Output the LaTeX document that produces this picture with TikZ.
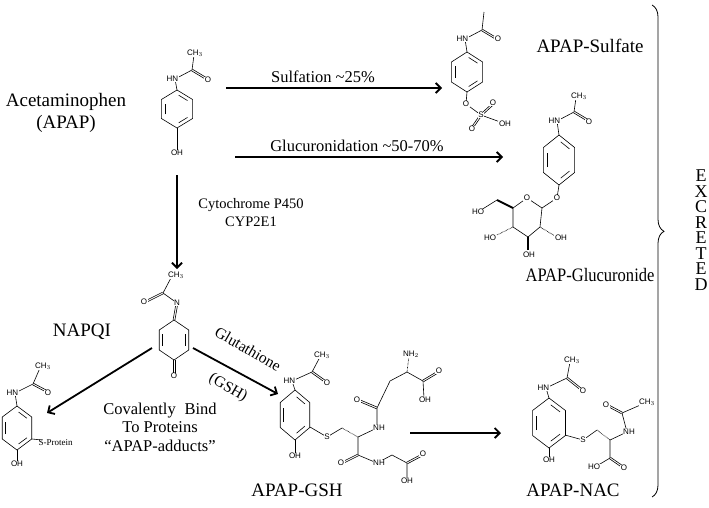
\documentclass[tikz,border=0pt]{standalone}
\usepackage{fontspec}
\setmainfont{Liberation Serif}
\setsansfont{Liberation Sans}
\usetikzlibrary{calc,arrows.meta,decorations.pathreplacing}
\newcommand\ringat[5]{%
\begin{scope}[shift={(#1,#2)},xscale=#3,yscale=#4]
\draw[bond] (30:1)--(90:1)--(150:1)--(210:1)--(270:1)--(330:1)--cycle;
\foreach \a/\b in {#5}{\draw[bond] ($(\a:0.78)!0.14!(\b:0.78)$)--($(\b:0.78)!0.14!(\a:0.78)$);}
\end{scope}}
\newcommand\dbond[2]{%
\draw[bond] ($(#1)!0.9pt!90:(#2)$)--($(#2)!0.9pt!-90:(#1)$);
\draw[bond] ($(#1)!0.9pt!-90:(#2)$)--($(#2)!0.9pt!90:(#1)$);}
\tikzset{
 bond/.style={line width=0.6pt},
 hash/.style={line width=0.7pt,dash pattern=on 0.6pt off 0.8pt},
 wedge/.style={line width=1.8pt},
 atom/.style={font=\sffamily\fontsize{8}{8}\selectfont,fill=white,inner sep=0.6pt},
 lbl/.style={font=\fontsize{16.5}{18}\selectfont,inner sep=0pt,align=center},
 big/.style={font=\fontsize{19}{22}\selectfont,inner sep=0pt,align=center},
 arr/.style={line width=1.8pt,-{Straight Barb[length=5pt,width=10pt]}}
}
\begin{document}
\begin{tikzpicture}[x=1pt,y=-1pt]
\useasboundingbox (0,0) rectangle (709,507);
% ---------- APAP
\ringat{177}{109}{18}{19}{30/90,150/210,270/330}
\draw[bond] (177,90)--(175,79)--(192,70)--(194,55);
\dbond{192,70}{207,79}
\draw[bond] (177,128)--(177,150);
\node[atom,anchor=east] at (179,79) {HN};
\node[atom] at (195,53) {CH$_3$};
\node[atom] at (208,80) {O};
\node[atom] at (177,153) {OH};
% ---------- Sulfate
\ringat{467}{72}{18}{20}{30/90,150/210,270/330}
\draw[bond] (467,52)--(465,39)--(482,30)--(484,12);
\dbond{482,30}{497,39}
\draw[bond] (467,92)--(466,104)--(481,115)--(503,123);
\dbond{481,115}{493,104}
\dbond{481,115}{472,128}
\node[atom,anchor=east] at (469,39) {HN};
\node[atom] at (498,39) {O};
\node[atom] at (466,104) {O};
\node[atom] at (481,115) {S};
\node[atom] at (493,103) {O};
\node[atom] at (505,124) {OH};
\node[atom] at (472,129) {O};
% ---------- Glucuronide
\ringat{559}{160}{18}{25}{30/90,150/210,270/330}
\draw[bond] (559,135)--(557,121)--(574,112)--(576,98);
\dbond{574,112}{589,121}
\node[atom,anchor=east] at (561,121) {HN};
\node[atom] at (579,96) {CH$_3$};
\node[atom] at (589,122) {O};
\draw[bond] (559,185)--(557,198)--(542,208)--(540,227)--(528,237)--(513,227)--(513,208)--(527,198)--(542,208);
\draw[wedge] (513,208)--(497,200);
\draw[bond] (497,200)--(481,210);
\draw[hash] (513,227)--(495,236);
\draw[wedge] (528,237)--(528,250);
\draw[hash] (540,227)--(555,236);
\node[atom] at (557,198) {O};
\node[atom] at (527,198) {O};
\node[atom] at (478,212) {HO};
\node[atom] at (490,238) {HO};
\node[atom] at (529,255) {OH};
\node[atom] at (561,238) {OH};
% ---------- NAPQI
\ringat{174}{340}{17}{20}{150/210,330/30}
\dbond{174,320}{177,303}
\draw[bond] (177,303)--(163,293)--(172,276);
\dbond{163,293}{145,302}
\dbond{174,360}{174,374}
\node[atom] at (177,303) {N};
\node[atom] at (176,275) {CH$_3$};
\node[atom] at (144,302) {O};
\node[atom] at (174,376) {O};
% ---------- adduct
\ringat{17}{428}{17}{22}{30/90,150/210,270/330}
\draw[bond] (17,406)--(15,393)--(33,384)--(40,368);
\dbond{33,384}{48,392}
\draw[bond] (32,439)--(42,440);
\draw[bond] (17,450)--(17,462);
\node[atom,anchor=east] at (19,393) {HN};
\node[atom] at (43,366) {CH$_3$};
\node[atom] at (48,393) {O};
\node[atom] at (17,464) {OH};
\node[font=\fontsize{9}{9}\selectfont,inner sep=0.5pt,anchor=west] at (38,443) {S-Protein};
% ---------- APAP-GSH
\ringat{295}{415}{17}{25}{30/90,150/210,270/330}
\draw[bond] (295,390)--(292,381)--(312,372)--(320,357);
\dbond{312,372}{326,382}
\draw[bond] (310,427)--(327,437)--(342,428);
\draw[hash] (342,428)--(358,437);
\draw[bond] (358,437)--(377,428)--(377,408)--(390,381)--(407,372);
\dbond{377,408}{358,400}
\draw[hash] (407,372)--(409,356);
\draw[bond] (407,372)--(423,381)--(424,398);
\dbond{423,381}{438,372}
\draw[bond] (358,437)--(358,455)--(377,463)--(392,455)--(407,463)--(407,479);
\dbond{358,455}{342,463}
\dbond{407,463}{422,455}
\draw[bond] (295,440)--(295,453);
\node[atom,anchor=east] at (296,381) {HN};
\node[atom] at (322,355) {CH$_3$};
\node[atom] at (327,383) {O};
\node[atom] at (327,437) {S};
\node[atom] at (379,428) {NH};
\node[atom] at (357,400) {O};
\node[atom] at (411,354) {NH$_2$};
\node[atom] at (439,371) {O};
\node[atom] at (425,400) {OH};
\node[atom] at (341,463) {O};
\node[atom] at (379,463) {NH};
\node[atom] at (423,454) {O};
\node[atom] at (407,481) {OH};
\node[atom] at (295,456) {OH};
% ---------- APAP-NAC
\ringat{549}{423}{19}{25}{30/90,150/210,270/330}
\draw[bond] (549,398)--(546,388)--(567,378)--(570,362);
\dbond{567,378}{582,390}
\draw[bond] (565,435)--(583,440)--(597,430);
\draw[hash] (597,430)--(610,440);
\draw[bond] (610,440)--(627,432)--(622,413)--(645,403);
\dbond{622,413}{607,405}
\draw[bond] (610,440)--(610,458)--(595,467);
\dbond{610,458}{623,467}
\draw[bond] (549,448)--(549,457);
\node[atom,anchor=east] at (550,388) {HN};
\node[atom] at (572,360) {CH$_3$};
\node[atom] at (583,391) {O};
\node[atom] at (583,440) {S};
\node[atom] at (629,432) {NH};
\node[atom] at (606,405) {O};
\node[atom] at (647,402) {CH$_3$};
\node[atom] at (594,467) {HO};
\node[atom] at (624,468) {O};
\node[atom] at (549,460) {OH};
% ---------- texts
\node[big] (apap) at (66,113) {Acetaminophen\\(APAP)};
\node[big] (sulf) at (590,46) {APAP-Sulfate};
\node[big,xscale=0.87] (gluc) at (590,275) {APAP-Glucuronide};
\node[big] (napqi) at (82,332) {NAPQI};
\node[big] (gsh) at (297,490) {APAP-GSH};
\node[big] (nac) at (573,490) {APAP-NAC};
\node[lbl] (t1) at (323,77) {Sulfation \textasciitilde25\%};
\node[lbl] (t2) at (357,146) {Glucuronidation \textasciitilde50-70\%};
\node[lbl,font=\fontsize{14.5}{18}\selectfont] (t3) at (251,213) {Cytochrome P450\\CYP2E1};
\node[lbl,font=\fontsize{16.5}{18.5}\selectfont] (t4) at (160,427) {Covalently\; Bind\\To Proteins\\``APAP-adducts''};
\node[lbl,font=\fontsize{15.5}{17}\selectfont,rotate=-30] (t5) at (248,349) {Glutathione};
\node[lbl,font=\fontsize{15.5}{17}\selectfont,rotate=-30] (t6) at (228,388) {(GSH)};
\node[lbl,font=\fontsize{18}{15.5}\selectfont] (ex) at (701,230) {E\\X\\C\\R\\E\\T\\E\\D};
% ---------- arrows
\coordinate (a1) at (226,88); \coordinate (b1) at (442,88);
\coordinate (a2) at (235,157); \coordinate (b2) at (503,157);
\coordinate (a3) at (177,175); \coordinate (b3) at (177,269);
\coordinate (a4) at (152,348); \coordinate (b4) at (47,413);
\coordinate (a5) at (193,348); \coordinate (b5) at (278,394);
\coordinate (a6) at (410,433); \coordinate (b6) at (501,433);
\draw[arr] (a1)--(b1);
\draw[arr] (a2)--(b2);
\draw[arr] (a3)--(b3);
\draw[arr] (a4)--(b4);
\draw[arr] (a5)--(b5);
\draw[arr] (a6)--(b6);
% brace
\coordinate (br1) at (652,5); \coordinate (br2) at (652,497);
\draw[line width=0.8pt,decorate,decoration={brace,amplitude=12pt,aspect=0.46}] (br1)--(br2);
\end{tikzpicture}
\end{document}
